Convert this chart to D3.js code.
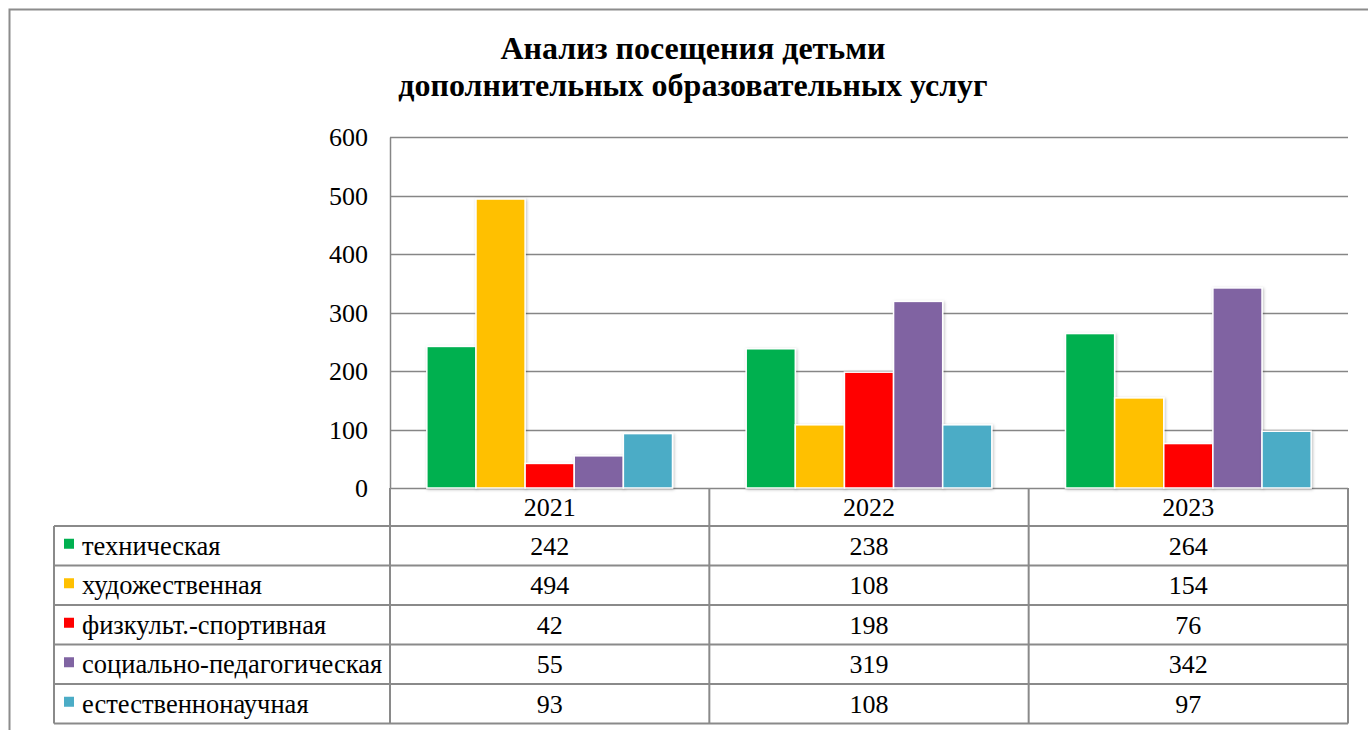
<!DOCTYPE html>
<html>
<head>
<meta charset="utf-8">
<script src="https://cdn.jsdelivr.net/npm/d3@7"></script>
<style>
  html, body { margin: 0; padding: 0; background: #fff; }
  svg { display: block; }
</style>
</head>
<body>
<svg id="chart" width="1368" height="730"></svg>
<script>
// data
var years = ["2021", "2022", "2023"];
var series = ["техническая", "художественная", "физкульт.-спортивная", "социально-педагогическая", "естественнонаучная"];
var colors = ["#00B050", "#FFC000", "#FF0000", "#8064A2", "#4BACC6"];
var values = [
    [242, 238, 264],
    [494, 108, 154],
    [42, 198, 76],
    [55, 319, 342],
    [93, 108, 97]
];
var yTicks = [0, 100, 200, 300, 400, 500, 600];
var titleLines = ["Анализ посещения детьми", "дополнительных образовательных услуг"];

var fontFam = "Liberation Serif, Times New Roman, serif";
var gridColor = "#868686";
var lineColor = "#8a8a8a";

var svg = d3.select("#chart");

// outer frame
svg.append("rect")
    .attr("x", 9.5).attr("y", 9.5)
    .attr("width", 1400).attr("height", 800)
    .attr("fill", "none")
    .attr("stroke", "#8c8c8c")
    .attr("stroke-width", 2);

// title
svg.append("text")
    .attr("text-anchor", "middle")
    .attr("font-family", fontFam)
    .attr("font-weight", "bold")
    .attr("font-size", 32)
    .selectAll("tspan")
    .data(titleLines)
    .enter()
    .append("tspan")
    .attr("x", 693)
    .attr("y", function (d, i) { return 59 + i * 37; })
    .text(function (d) { return d; });

// plot area
var plotLeft = 390, plotRight = 1348, plotTop = 137, plotBottom = 488;

var y = d3.scaleLinear().domain([0, 600]).range([plotBottom, plotTop]);
var x0 = d3.scaleBand().domain(years).range([plotLeft, plotRight]).padding(0);
var x1 = d3.scaleBand().domain(series).range([0, x0.bandwidth()])
    .paddingInner(0).paddingOuter(0.75);

// gridlines
svg.append("g")
    .selectAll("line")
    .data(yTicks)
    .enter()
    .append("line")
    .attr("x1", plotLeft).attr("x2", plotRight)
    .attr("y1", function (d) { return Math.round(y(d)) + 0.5; })
    .attr("y2", function (d) { return Math.round(y(d)) + 0.5; })
    .attr("stroke", gridColor)
    .attr("stroke-width", 1.5);

// y axis (labels only)
var yAxis = svg.append("g")
    .attr("transform", "translate(" + plotLeft + ",0)")
    .call(d3.axisLeft(y).tickValues(yTicks).tickSize(0).tickPadding(22));
yAxis.attr("font-family", fontFam).attr("font-size", 26);
yAxis.select(".domain")
    .attr("stroke", gridColor)
    .attr("stroke-width", 1.5);
yAxis.selectAll("text")
    .attr("fill", "#000")
    .attr("dy", "0.34em");

// drop shadow for bars
var defs = svg.append("defs");
var shadow = defs.append("filter").attr("id", "shadow")
    .attr("x", "-20%").attr("y", "-20%").attr("width", "140%").attr("height", "140%");
shadow.append("feDropShadow")
    .attr("dx", 1).attr("dy", 1).attr("stdDeviation", 1.5)
    .attr("flood-color", "#000").attr("flood-opacity", 0.25);

// bars
var groups = svg.append("g")
    .selectAll("g")
    .data(years)
    .enter()
    .append("g")
    .attr("transform", function (d) { return "translate(" + x0(d) + ",0)"; });

groups.selectAll("rect")
    .data(function (yr, yi) {
        return series.map(function (s, si) {
            return { name: s, value: values[si][yi], color: colors[si] };
        });
    })
    .enter()
    .append("rect")
    .attr("x", function (d) { return x1(d.name); })
    .attr("y", function (d) { return y(d.value); })
    .attr("width", x1.bandwidth())
    .attr("height", function (d) { return plotBottom - y(d.value); })
    .attr("fill", function (d) { return d.color; })
    .attr("stroke", "#fff")
    .attr("stroke-width", 1.5)
    .attr("filter", "url(#shadow)");

// data table
var tableLeft = 54;
var headerH = 38, rowH = 39.5;
var rowY = function (i) { return plotBottom + headerH + i * rowH; };
var table = svg.append("g")
    .attr("font-family", fontFam)
    .attr("font-size", 26);

// header cells
table.selectAll(".hdr")
    .data(years)
    .enter()
    .append("text")
    .attr("class", "hdr")
    .attr("x", function (d) { return x0(d) + x0.bandwidth() / 2; })
    .attr("y", plotBottom + headerH / 2 + 9)
    .attr("text-anchor", "middle")
    .text(function (d) { return d; });

// horizontal lines
var hLines = d3.range(series.length + 1);
table.selectAll(".hline")
    .data(hLines)
    .enter()
    .append("line")
    .attr("x1", tableLeft).attr("x2", plotRight)
    .attr("y1", function (d) { return rowY(d); })
    .attr("y2", function (d) { return rowY(d); })
    .attr("stroke", lineColor)
    .attr("stroke-width", 2);

// vertical lines
table.append("line")
    .attr("x1", tableLeft).attr("x2", tableLeft)
    .attr("y1", rowY(0)).attr("y2", rowY(series.length))
    .attr("stroke", lineColor).attr("stroke-width", 2);

var vx = years.map(function (d) { return x0(d); }).concat([plotRight]);
table.selectAll(".vline")
    .data(vx)
    .enter()
    .append("line")
    .attr("x1", function (d) { return d; })
    .attr("x2", function (d) { return d; })
    .attr("y1", plotBottom)
    .attr("y2", rowY(series.length))
    .attr("stroke", lineColor)
    .attr("stroke-width", 2);

// rows: legend key + label + values
var rows = table.selectAll(".row")
    .data(series)
    .enter()
    .append("g")
    .attr("class", "row")
    .attr("transform", function (d, i) { return "translate(0," + rowY(i) + ")"; });

rows.append("rect")
    .attr("x", 64)
    .attr("y", rowH / 2 - 7)
    .attr("width", 10)
    .attr("height", 10)
    .attr("fill", function (d, i) { return colors[i]; });

rows.append("text")
    .attr("x", 82)
    .attr("y", rowH / 2 + 9)
    .attr("font-size", 26.5)
    .text(function (d) { return d; });

rows.selectAll(".val")
    .data(function (d, i) { return values[i]; })
    .enter()
    .append("text")
    .attr("class", "val")
    .attr("x", function (d, j) { return x0(years[j]) + x0.bandwidth() / 2; })
    .attr("y", rowH / 2 + 9)
    .attr("text-anchor", "middle")
    .text(function (d) { return d; });
</script>
</body>
</html>
